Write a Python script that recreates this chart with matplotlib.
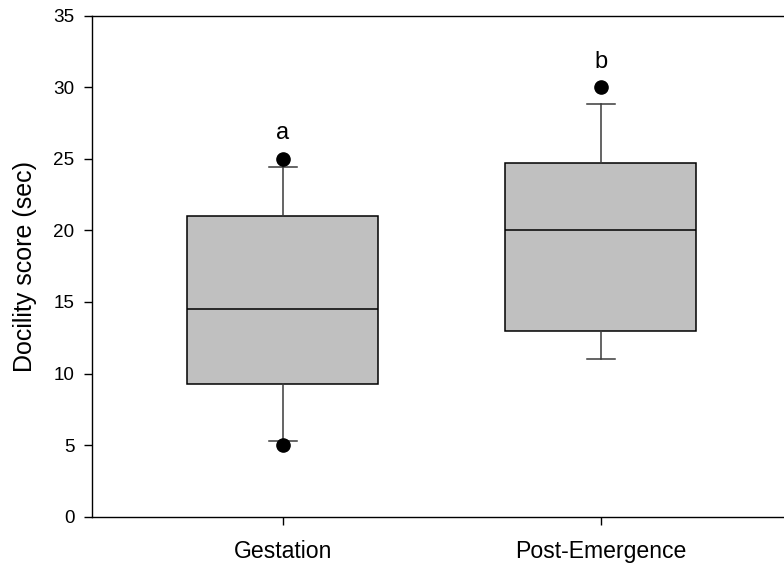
import matplotlib
matplotlib.use("Agg")
import matplotlib.pyplot as plt

plt.rcParams['font.family'] = ['Liberation Sans', 'DejaVu Sans']

# Box-plot summary for each group
groups = ["Gestation", "Post-Emergence"]
q1 = [9.3, 13.0]
median = [14.5, 20.0]
q3 = [21.0, 24.7]
whisker_low = [5.3, 11.0]
whisker_high = [24.4, 28.8]
outliers = [[5.0, 25.0], [30.0]]
letters = ["a", "b"]
letter_y = [26.8, 31.8]

yticks = [0, 5, 10, 15, 20, 25, 30, 35]

fig = plt.figure(figsize=(7.84, 5.67), dpi=100)
ax = fig.add_axes([91.7 / 784, 50.3 / 567, 700 / 784, 501 / 567])

stats = []
for i, name in enumerate(groups):
    stats.append(dict(label=name, q1=q1[i], med=median[i], q3=q3[i],
                      whislo=whisker_low[i], whishi=whisker_high[i],
                      fliers=outliers[i]))

positions = [1, 2]
ax.bxp(stats, positions=positions, widths=0.6, capwidths=0.088,
       patch_artist=True, showfliers=True,
       boxprops=dict(facecolor='#c0c0c0', edgecolor='black', linewidth=1.1),
       medianprops=dict(color='black', linewidth=1.1),
       whiskerprops=dict(color='#3a3a3a', linewidth=1.1),
       capprops=dict(color='#3a3a3a', linewidth=1.1),
       flierprops=dict(marker='o', markerfacecolor='black',
                       markeredgecolor='black', markersize=9.5))

for pos, txt, yv in zip(positions, letters, letter_y):
    ax.text(pos, yv, txt, ha='center', va='center', fontsize=17)

ax.set_xlim(0.4, 2.6)
ax.set_ylim(0, 35)
ax.set_yticks(yticks)
ax.set_xticks(positions)
ax.set_xticklabels(groups, fontsize=16.6)
ax.set_ylabel("Docility score (sec)", fontsize=18, labelpad=12)

ax.tick_params(axis='both', direction='out', length=5.5, width=1.0,
               color='black')
ax.tick_params(axis='y', labelsize=13.6, pad=7)
ax.tick_params(axis='x', pad=11)

ax.spines['right'].set_visible(False)
for s in ['left', 'bottom', 'top']:
    ax.spines[s].set_linewidth(1.0)

fig.savefig("out.png", dpi=100)
